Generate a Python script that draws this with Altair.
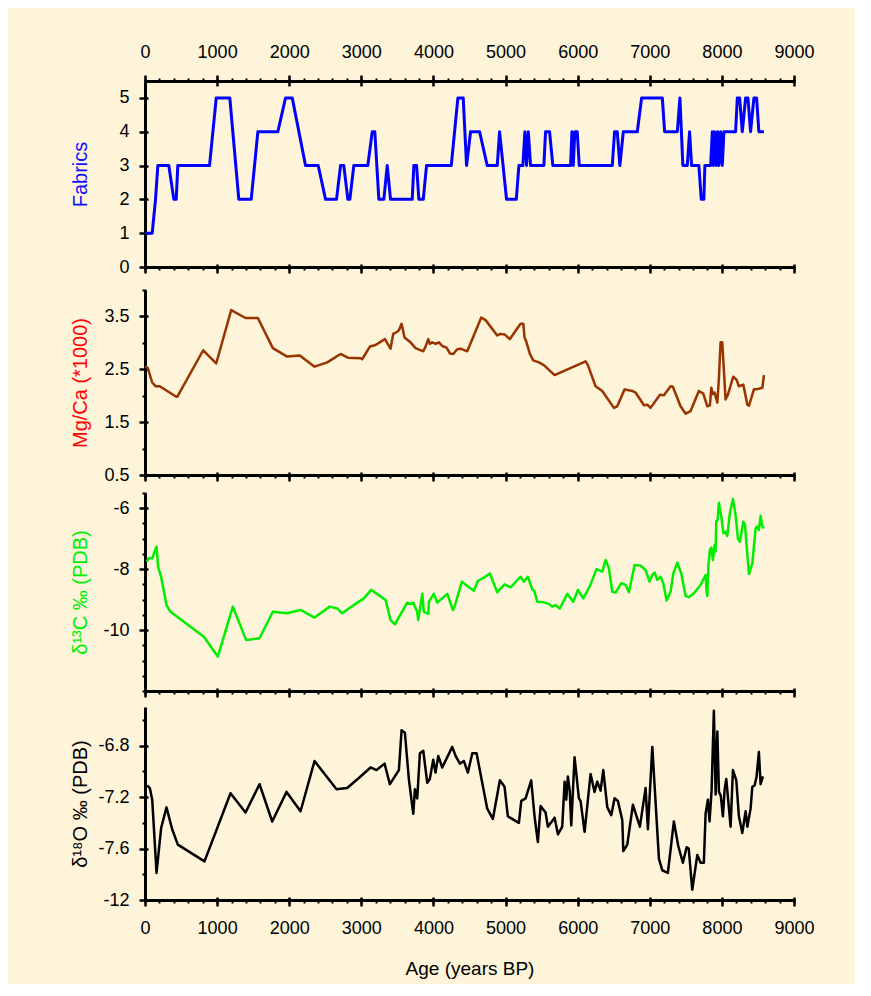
import altair as alt
import pandas as pd

# ---------------- data ----------------
AGE_MAJOR = list(range(0, 9001, 1000))
AGE_MINOR = list(range(0, 9001, 200))

FABRICS = [(0,1),(100,1),(146,2),(178,3),(330,3),(400,2),(433,2),(455,3),(895,3),(988,5),
           (1176,5),(1301,2),(1473,2),(1565,4),(1842,4),(1949,5),(2042,5),(2226,3),(2402,3),(2504,2),
           (2656,2),(2712,3),(2757,3),(2813,2),(2841,2),(2896,3),(3090,3),(3151,4),(3187,4),(3243,2),
           (3312,2),(3359,3),(3405,2),(3706,2),(3728,3),(3766,3),(3798,2),(3859,2),(3904,3),(4247,3),
           (4339,5),(4413,5),(4459,3),(4515,4),(4640,4),(4746,3),(4885,3),(4917,4),(5014,2),(5149,2),
           (5185,3),(5240,3),(5268,4),(5291,3),(5315,4),(5347,3),(5531,3),(5555,4),(5610,4),(5656,3),
           (5902,3),(5920,4),(5939,3),(5961,4),(5994,4),(6022,3),(6480,3),(6512,4),(6549,4),(6585,3),
           (6633,4),(6827,4),(6887,5),(7174,5),(7206,4),(7382,4),(7418,5),(7459,3),(7520,3),(7552,4),
           (7580,3),(7681,3),(7714,2),(7750,2),(7764,3),(7844,3),(7867,4),(7881,3),(7899,4),(7923,3),
           (7941,4),(7959,3),(7983,4),(8006,3),(8028,4),(8190,4),(8214,5),(8246,5),(8283,4),(8329,5),
           (8361,5),(8398,4),(8444,5),(8481,5),(8513,4),(8583,4)]

MGCA = [(7,2.56),(39,2.52),(100,2.25),(146,2.18),(205,2.18),(308,2.09),(423,1.99),(447,1.98),
        (807,2.86),(987,2.61),(1195,3.62),(1394,3.47),(1565,3.47),(1773,2.90),(1972,2.74),(2147,2.76),
        (2351,2.55),(2527,2.63),(2712,2.79),(2813,2.72),(2989,2.71),(3012,2.69),(3118,2.93),(3197,2.96),
        (3326,3.07),(3405,2.89),(3442,3.17),(3498,3.21),(3521,3.24),(3558,3.36),(3599,3.10),(3682,3.01),
        (3752,2.90),(3859,2.84),(3891,2.93),(3928,3.07),(3950,2.98),(3983,3.01),(4030,2.98),(4077,3.01),
        (4122,2.94),(4182,2.91),(4228,2.80),(4275,2.79),(4330,2.88),(4377,2.89),(4469,2.84),(4663,3.48),
        (4723,3.43),(4885,3.14),(4931,3.17),(4986,3.16),(5060,3.07),(5125,3.20),(5208,3.36),(5246,3.36),
        (5264,3.10),(5291,3.01),(5337,2.79),(5384,2.67),(5462,2.63),(5531,2.58),(5680,2.39),(6110,2.65),
        (6142,2.58),(6248,2.18),(6341,2.09),(6503,1.77),(6549,1.80),(6651,2.12),(6758,2.09),(6803,2.06),
        (6919,1.82),(6965,1.83),(7011,1.77),(7141,2.02),(7196,2.01),(7289,2.18),(7320,2.17),(7427,1.80),
        (7497,1.66),(7566,1.71),(7681,2.09),(7742,2.04),(7798,1.80),(7834,1.82),(7853,2.15),(7875,2.03),
        (7899,2.06),(7937,1.87),(7959,2.34),(7982,3.01),(8005,3.01),(8051,1.93),(8083,2.02),(8158,2.36),
        (8204,2.30),(8236,2.18),(8297,2.21),(8353,1.83),(8376,1.81),(8444,2.12),(8480,2.12),(8561,2.15),
        (8583,2.39)]

D13C = [(21,-7.75),(53,-7.64),(100,-7.64),(160,-7.26),(183,-7.94),(224,-8.25),(298,-9.18),(354,-9.40),
        (816,-10.22),(1010,-10.87),(1218,-9.23),(1403,-10.33),(1588,-10.27),(1773,-9.40),(1972,-9.45),
        (2157,-9.34),(2351,-9.59),(2563,-9.23),(2666,-9.29),(2735,-9.45),(2827,-9.29),(2920,-9.14),
        (3035,-8.96),(3137,-8.68),(3336,-9.01),(3405,-9.67),(3465,-9.81),(3637,-9.10),(3680,-9.14),
        (3720,-9.10),(3775,-9.40),(3789,-9.67),(3845,-8.81),(3867,-9.40),(3928,-9.47),(3937,-9.07),
        (4006,-8.81),(4053,-9.10),(4191,-8.81),(4270,-9.34),(4290,-9.25),(4395,-8.41),(4469,-8.55),
        (4561,-8.71),(4616,-8.39),(4699,-8.28),(4782,-8.14),(4885,-8.76),(4986,-8.50),(5070,-8.60),
        (5208,-8.25),(5254,-8.41),(5310,-8.25),(5370,-8.66),(5400,-8.72),(5440,-9.07),(5531,-9.09),
        (5601,-9.14),(5647,-9.23),(5694,-9.18),(5753,-9.29),(5856,-8.81),(5939,-9.07),(6003,-8.68),
        (6078,-8.96),(6170,-8.55),(6262,-8.00),(6341,-8.08),(6387,-7.70),(6433,-7.97),(6480,-8.74),
        (6526,-8.77),(6605,-8.46),(6665,-8.52),(6711,-8.76),(6790,-7.86),(6873,-7.89),(6942,-8.03),
        (6997,-8.41),(7034,-8.19),(7067,-8.11),(7104,-8.35),(7150,-8.25),(7187,-8.46),(7233,-9.03),
        (7289,-8.74),(7326,-8.14),(7382,-7.79),(7437,-8.14),(7497,-8.88),(7543,-8.92),(7612,-8.79),
        (7705,-8.52),(7774,-8.19),(7788,-8.74),(7798,-8.88),(7812,-7.92),(7834,-7.37),(7853,-7.29),
        (7875,-7.70),(7899,-7.21),(7913,-7.42),(7922,-6.42),(7940,-6.40),(7959,-5.82),(7992,-6.27),
        (8020,-6.82),(8051,-6.77),(8075,-6.91),(8111,-6.16),(8153,-5.70),(8190,-6.22),(8222,-6.99),
        (8250,-7.10),(8297,-6.44),(8320,-6.55),(8375,-8.16),(8422,-7.81),(8468,-6.66),(8490,-6.60),
        (8513,-6.71),(8537,-6.25),(8561,-6.60),(8583,-6.66)]

D18O = [(30,-7.11),(67,-7.13),(100,-7.22),(160,-7.79),(224,-7.44),(298,-7.28),(377,-7.45),(455,-7.57),
        (825,-7.70),(1186,-7.17),(1394,-7.32),(1588,-7.10),(1764,-7.39),(1963,-7.16),(2157,-7.31),
        (2351,-6.92),(2656,-7.14),(2804,-7.13),(2989,-7.04),(3128,-6.97),(3211,-6.99),(3322,-6.94),
        (3396,-7.10),(3521,-6.99),(3558,-6.68),(3604,-6.70),(3659,-7.06),(3720,-7.33),(3743,-7.14),
        (3775,-7.21),(3812,-6.86),(3859,-6.84),(3914,-7.09),(3950,-7.06),(3997,-6.91),(4029,-7.01),
        (4067,-6.88),(4122,-6.97),(4261,-6.81),(4307,-6.88),(4367,-6.94),(4422,-6.92),(4477,-7.01),
        (4539,-6.86),(4598,-6.86),(4746,-7.29),(4824,-7.37),(4921,-7.07),(4986,-7.12),(5032,-7.35),
        (5185,-7.40),(5218,-7.23),(5278,-7.21),(5356,-7.07),(5402,-7.35),(5448,-7.55),(5486,-7.27),
        (5555,-7.32),(5587,-7.43),(5680,-7.36),(5726,-7.49),(5786,-7.43),(5819,-7.08),(5842,-7.22),
        (5864,-7.04),(5890,-7.15),(5911,-7.42),(5957,-6.89),(6017,-7.21),(6040,-7.23),(6096,-7.47),
        (6179,-7.02),(6234,-7.16),(6272,-7.08),(6318,-7.15),(6355,-6.99),(6411,-7.28),(6466,-7.34),
        (6512,-7.21),(6558,-7.23),(6619,-7.38),(6633,-7.62),(6688,-7.57),(6766,-7.26),(6863,-7.43),
        (6942,-7.13),(6974,-7.45),(7035,-6.81),(7127,-7.68),(7174,-7.77),(7251,-7.79),(7334,-7.39),
        (7395,-7.58),(7459,-7.71),(7511,-7.59),(7540,-7.60),(7589,-7.92),(7659,-7.65),(7705,-7.71),
        (7750,-7.71),(7774,-7.33),(7806,-7.22),(7829,-7.39),(7857,-7.15),(7889,-6.53),(7913,-7.18),
        (7937,-6.69),(7959,-7.16),(7985,-7.19),(8014,-7.35),(8038,-7.14),(8061,-7.06),(8121,-7.43),
        (8153,-6.99),(8200,-7.07),(8236,-7.35),(8283,-7.48),(8329,-7.31),(8353,-7.43),(8398,-7.29),
        (8422,-7.12),(8454,-7.11),(8481,-7.04),(8513,-6.85),(8537,-7.10),(8569,-7.04)]

MG_MAJOR, MG_MINOR = [0.5, 1.5, 2.5, 3.5], [1.0, 2.0, 3.0, 4.0]
C_MAJOR = [-10, -8, -6]
C_MINOR = [-12 + 0.5 * i for i in range(14) if (-12 + 0.5 * i) not in (-10, -8, -6)]
O_MAJOR, O_MINOR = [-8.0, -7.6, -7.2, -6.8], [-7.8, -7.4, -7.0, -6.6]

# ---------------- styling ----------------
BG = "#fdf4d9"
FONT = "Liberation Sans"
LFS = 18   # tick label font size
TFS = 20   # axis title font size
W = 649
XSCALE = alt.Scale(domain=[0, 9000], nice=False, zero=False)


def frame(pairs):
    return pd.DataFrame(pairs, columns=["age", "v"])


def axis(kind, orient, values=None, **kw):
    base = dict(orient=orient, grid=False, title=None, minExtent=0, labels=False,
                domain=False, ticks=True, tickColor="black", labelOverlap=False,
                labelFlush=False)
    if kind == "major":
        base.update(values=values, tickSize=9, offset=-3, tickWidth=2.5)
    elif kind == "minor":
        base.update(values=values, tickSize=4, offset=-1, tickWidth=2)
    else:
        base.update(ticks=False, domain=True, domainColor="black", domainWidth=3)
    base.update(kw)
    return alt.Axis(**base)


def panel(pairs, color, sw, ydom, h, ymaj, ymin, ytitle, tcolor, lexpr,
          bottom_kw, top=False):
    data = frame(pairs)
    ys = alt.Scale(domain=ydom, nice=False, zero=False)

    def enc(xa, ya):
        return dict(x=alt.X("age:Q", scale=XSCALE, axis=xa),
                    y=alt.Y("v:Q", scale=ys, axis=ya))

    yaxis_major = axis("major", "left", ymaj, labels=True, labelExpr=lexpr,
                       labelFontSize=LFS, labelPadding=10, labelFont=FONT,
                       labelColor="black",
                       title=ytitle, titleColor=tcolor, titleFont=FONT,
                       titleFontSize=TFS, titleFontWeight="normal", titleAngle=270,
                       titleX=-62, titleY=h / 2, titleAlign="center",
                       titleBaseline="alphabetic")
    line = alt.Chart(data).mark_line(color=color, strokeWidth=sw, strokeJoin="round").encode(
        **enc(axis("major", "bottom", AGE_MAJOR, **bottom_kw), yaxis_major))
    minor = alt.Chart(data).mark_line(opacity=0).encode(
        **enc(axis("minor", "bottom", AGE_MINOR),
              axis("minor", "left", ymin) if ymin else None))
    dom = alt.Chart(data).mark_line(opacity=0).encode(
        **enc(axis("domain", "bottom"), axis("domain", "left")))
    layers = [line, minor, dom]
    if top:
        layers.append(alt.Chart(data).mark_line(opacity=0).encode(
            **enc(axis("major", "top", AGE_MAJOR, offset=-5, tickSize=11, labels=True,
                       labelExpr="'' + datum.value", labelFontSize=LFS, labelPadding=14,
                       labelFont=FONT, labelColor="black"), None)))
        layers.append(alt.Chart(data).mark_line(opacity=0).encode(
            **enc(axis("minor", "top", AGE_MINOR), None)))
        layers.append(alt.Chart(data).mark_line(opacity=0).encode(
            **enc(axis("domain", "top"), None)))
    return alt.layer(*layers).resolve_axis(x="independent", y="independent").properties(
        width=W, height=h)


hidden_labels = dict(labels=True, labelOpacity=0, labelFontSize=8, labelPadding=0)
p1 = panel(FABRICS, "#0000ff", 3, [0, 5.5], 186, [0, 1, 2, 3, 4, 5], None,
           "Fabrics", "#1010ff", "'' + datum.value", hidden_labels, top=True)
p2 = panel(MGCA, "#993300", 2.5, [0.5, 4.0], 185, MG_MAJOR, MG_MINOR,
           "Mg/Ca (*1000)", "#ff0000", "format(datum.value, '.1f')", {})
p3 = panel(D13C, "#00ee00", 2.5, [-12, -5.5], 198, C_MAJOR, C_MINOR,
           "δ¹³C ‰ (PDB)", "#00ee00", "'' + datum.value", {})
p4 = panel(D18O, "#000000", 2.5, [-8, -6.5], 193, O_MAJOR, O_MINOR,
           "δ¹⁸O ‰ (PDB)", "#000000",
           "datum.value < -7.9 ? '-12' : '' + datum.value",
           dict(labels=True, labelExpr="'' + datum.value", labelFontSize=LFS,
                labelPadding=13, labelFont=FONT, labelColor="black",
                title="Age (years BP)", titleFont=FONT, titleFontSize=TFS - 1,
                titleFontWeight="normal", titleColor="black", titlePadding=22))

chart = alt.vconcat(p1, p2, p3, p4, spacing=8).properties(
    background=BG,
    padding={"left": 62, "top": 35, "right": 40, "bottom": 6},
).configure_view(stroke=None)

chart.save("out.html", embed_options={"renderer": "svg", "actions": False})
